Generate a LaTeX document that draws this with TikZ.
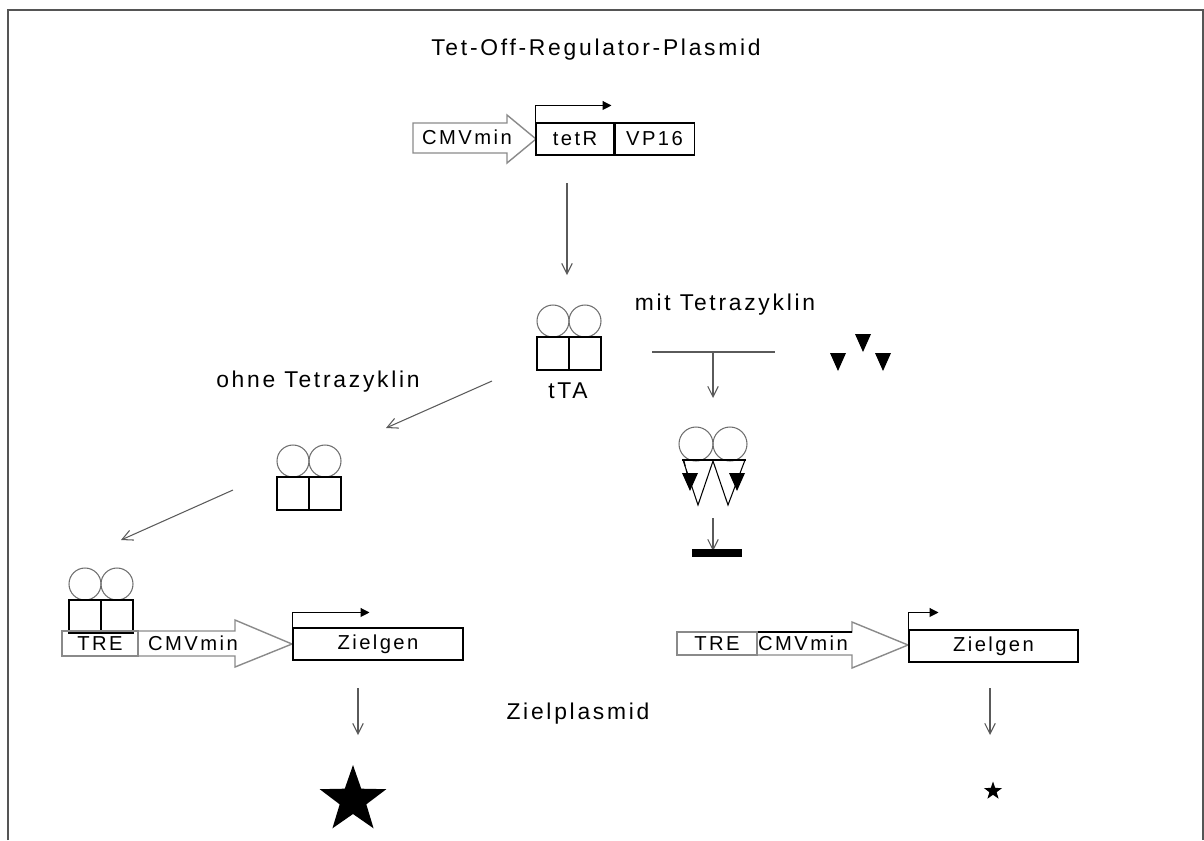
\documentclass[tikz,border=0pt]{standalone}
\usepackage{fontspec}
\setmainfont{Liberation Sans}[LetterSpace=12]
\usepackage{tikz}
\usetikzlibrary{arrows.meta,positioning,shapes.geometric,calc}
\usepackage{xcolor}
\definecolor{framegray}{HTML}{555555}
\definecolor{arrowgray}{HTML}{5A5A5A}
\definecolor{promogray}{HTML}{8A8A8A}
\definecolor{circgray}{HTML}{6E6E6E}

\begin{document}
\begin{tikzpicture}[
  x=0.02cm, y=-0.02cm,
  line width=0.6pt,
  flow/.style={
    draw=arrowgray,
    -{Straight Barb[length=6pt,width=6pt]}
  },
  txstart/.style={
    draw=black,
    -{Triangle[length=5pt,width=5pt]}
  },
  lbl/.style={
    font=\fontsize{13pt}{15pt}\selectfont,
    inner sep=0pt
  },
  genebox/.style={
    draw=black,
    minimum height=0.64cm,
    inner sep=0pt,
    font=\fontsize{11.5pt}{13pt}\selectfont
  },
  promoter/.style={
    draw=promogray,
    line width=0.8pt
  },
  boxlbl/.style={
    font=\fontsize{11.5pt}{13pt}\selectfont,
    inner sep=0pt
  },
  dimer/.pic={
    \draw[circgray] (-16,-16) circle[radius=0.32cm];
    \draw[circgray] (16,-16) circle[radius=0.32cm];
    \draw (-32,0) rectangle (0,33);
    \draw (0,0) rectangle (32,33);
  },
  tet/.pic={
    \fill (-8,-9) -- (8,-9) -- (0,9) -- cycle;
  }
]

  \useasboundingbox (0,0) rectangle (1204,840);
  \draw[framegray, line width=1.2pt] (8,840) -- (8,10) -- (1203,10) -- (1203,840);

  % --- TOP: REGULATOR PLASMID ---
  \node[lbl] (title) at (596,50) {Tet-Off-Regulator-Plasmid};

  \draw[promoter] (413,123) -- (507,123) -- (507,115) -- (536,139) -- (507,163) -- (507,153) -- (413,153) -- cycle;
  \node[boxlbl] (cmvtop) at (467,137) {CMVmin};
  \node[genebox, minimum width=1.56cm] (tetR) at (575,139) {tetR};
  \node[genebox, minimum width=1.58cm, right=0pt of tetR] (vp16) {VP16};
  \draw[txstart] (tetR.north west) -- ++(0,-17) -- ++(76,0);

  \coordinate (tetR-out) at (567,183);
  \coordinate (tta-in) at (567,275);
  \draw[flow] (tetR-out) -- (tta-in);

  % --- tTA ---
  \pic at (569,337) {dimer};
  \node[lbl] (ttalbl) at (568,391) {tTA};
  \node[lbl] (mittet) at (725,305) {mit Tetrazyklin};
  \node[lbl] (ohnetet) at (318,382) {ohne Tetrazyklin};

  % --- RIGHT BRANCH: WITH TETRACYCLINE ---
  \draw[arrowgray] (652,352) -- (775,352);
  \coordinate (tetline-out) at (713,352);
  \coordinate (complex-in) at (713,398);
  \draw[flow] (tetline-out) -- (complex-in);

  \pic at (838,362) {tet};
  \pic at (863,343) {tet};
  \pic at (883,362) {tet};

  % tTA with bound tetracycline
  \draw[circgray] (696,444) circle[radius=0.34cm];
  \draw[circgray] (730,444) circle[radius=0.34cm];
  \draw (682,460) -- (746,460);
  \draw (683,460) -- (698,505) -- (713,461) -- (728,505) -- (745,460);
  \draw[densely dashed] (684,461) -- (687,473);
  \pic at (690,482) {tet};
  \pic at (737,482) {tet};

  \coordinate (complex-out) at (713,518);
  \coordinate (block-in) at (713,551);
  \draw[flow] (complex-out) -- (block-in);
  \fill (692,549) rectangle (742,557);

  % --- LEFT BRANCH: WITHOUT TETRACYCLINE ---
  \coordinate (tta-out) at (492,381);
  \coordinate (free-in) at (386,428);
  \draw[flow] (tta-out) -- (free-in);

  \pic at (309,477) {dimer};

  \coordinate (free-out) at (233,490);
  \coordinate (bound-in) at (121,540);
  \draw[flow] (free-out) -- (bound-in);

  \pic at (101,600) {dimer};

  % --- TARGET PLASMID, LEFT ---
  \draw[promoter] (138,631) -- (235,631) -- (235,620) -- (292,644) -- (235,667) -- (235,656) -- (138,656);
  \node[draw=promogray, line width=0.8pt, minimum width=1.52cm, minimum height=0.5cm, inner sep=0pt, font=\fontsize{11.5pt}{13pt}\selectfont] (treL) at (100,643.5) {TRE};
  \node[boxlbl] (cmvL) at (193,643) {CMVmin};
  \node[genebox, minimum width=3.4cm] (zielL) at (378,644) {Zielgen};
  \draw[txstart] (zielL.north west) -- ++(0,-15) -- ++(77,0);

  \coordinate (zielL-out) at (358,688);
  \coordinate (starL-in) at (358,735);
  \draw[flow] (zielL-out) -- (starL-in);
  \node[star, star points=5, star point ratio=2.5, fill=black, minimum size=1.4cm, inner sep=0pt] (bigstar) at (353,800) {};

  \node[lbl] (zielplasmid) at (578,714) {Zielplasmid};

  % --- TARGET PLASMID, RIGHT ---
  \draw[promoter] (757,632) -- (852,632) -- (852,622) -- (908,645) -- (852,668) -- (852,655) -- (757,655);
  \draw[line width=1.2pt] (677,632) -- (852,632);
  \node[draw=promogray, line width=0.8pt, minimum width=1.6cm, minimum height=0.46cm, inner sep=0pt, font=\fontsize{11.5pt}{13pt}\selectfont] (treR) at (717,643.5) {TRE};
  \node[boxlbl] (cmvR) at (803,643) {CMVmin};
  \node[genebox, minimum width=3.38cm] (zielR) at (993.5,646) {Zielgen};
  \draw[txstart] (zielR.north west) -- ++(0,-17) -- ++(30,0);

  \coordinate (zielR-out) at (990,688);
  \coordinate (starR-in) at (990,735);
  \draw[flow] (zielR-out) -- (starR-in);
  \node[star, star points=5, star point ratio=2.5, fill=black, minimum size=0.38cm, inner sep=0pt] (smallstar) at (993,791) {};

\end{tikzpicture}
\end{document}
